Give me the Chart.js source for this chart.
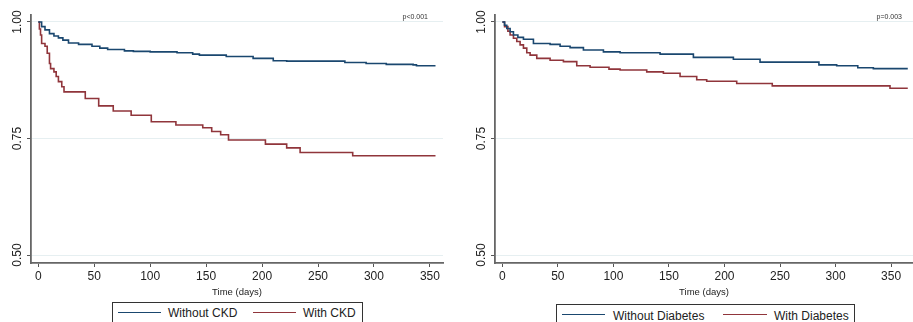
<!DOCTYPE html>
<html>
<head>
<meta charset="utf-8">
<script src="https://cdn.jsdelivr.net/npm/chart.js@4.4.1/dist/chart.umd.min.js"></script>
<style>
  body { margin: 0; width: 913px; height: 322px; overflow: hidden; background: #fff; position: relative;
         font-family: "Liberation Sans", Arial, sans-serif; color: #222; }
  .panel { position: absolute; top: 0; }
  .legend { position: absolute; border: 1px solid #333; height: 30px; box-sizing: border-box; }
  .legend span { position: absolute; white-space: nowrap; font-size: 12px; line-height: 12px; }
  .legend i { position: absolute; height: 0; border-top: 1.5px solid; }
</style>
</head>
<body>
<div class="panel" style="left:0"><canvas id="ckd" width="446" height="300"></canvas></div>
<div class="panel" style="left:464px"><canvas id="dm" width="449" height="300"></canvas></div>

<div class="legend" style="left:112px; top:302px; width:251px">
  <i style="left:5px; width:43px; top:9px; border-color:#1a476f"></i><span style="left:55px; top:4px">Without CKD</span>
  <i style="left:140px; width:43px; top:9px; border-color:#90353b"></i><span style="left:190px; top:4px">With CKD</span>
</div>
<div class="legend" style="left:556px; top:304px; width:299px">
  <i style="left:5px; width:43px; top:9px; border-color:#1a476f"></i><span style="left:56px; top:5px">Without Diabetes</span>
  <i style="left:166px; width:44px; top:9px; border-color:#90353b"></i><span style="left:217px; top:5px">With Diabetes</span>
</div>

<script>
// survival estimates (time in days, survival proportion)
const noCkdTime = [0, 3, 6, 10, 14, 18, 22, 27, 36, 48, 55, 62, 77, 85, 100, 124, 138, 144, 168, 192, 210, 222, 270, 274, 293, 311, 335, 338, 355];
const noCkdSurv = [1, 0.99, 0.983, 0.975, 0.97, 0.966, 0.961, 0.955, 0.952, 0.948, 0.944, 0.941, 0.938, 0.937, 0.936, 0.934, 0.931, 0.929, 0.926, 0.922, 0.917, 0.916, 0.916, 0.913, 0.911, 0.909, 0.908, 0.906, 0.906];

const ckdTime = [0, 1, 2, 3, 6, 8, 10, 11, 14, 16, 18, 21, 23, 42, 54, 67, 83, 101, 123, 147, 155, 163, 170, 203, 222, 234, 281, 355];
const ckdSurv = [1, 0.985, 0.972, 0.954, 0.948, 0.933, 0.911, 0.9, 0.893, 0.883, 0.872, 0.861, 0.85, 0.836, 0.82, 0.809, 0.8, 0.786, 0.779, 0.773, 0.765, 0.758, 0.747, 0.738, 0.73, 0.72, 0.713, 0.713];

const noDmTime = [0, 2, 4, 7, 10, 14, 19, 28, 43, 52, 61, 73, 91, 106, 142, 172, 208, 232, 276, 285, 301, 320, 334, 365];
const noDmSurv = [1, 0.993, 0.986, 0.979, 0.972, 0.967, 0.963, 0.954, 0.952, 0.948, 0.945, 0.94, 0.936, 0.934, 0.931, 0.924, 0.92, 0.914, 0.914, 0.908, 0.906, 0.902, 0.9, 0.9];

const dmTime = [0, 2, 5, 7, 10, 13, 16, 19, 22, 25, 31, 43, 55, 67, 79, 96, 106, 130, 145, 160, 175, 184, 211, 243, 349, 365];
const dmSurv = [1, 0.99, 0.98, 0.972, 0.965, 0.958, 0.951, 0.944, 0.934, 0.929, 0.922, 0.918, 0.915, 0.906, 0.903, 0.899, 0.897, 0.893, 0.89, 0.883, 0.876, 0.873, 0.868, 0.863, 0.858, 0.858];

const xTicks = [0, 50, 100, 150, 200, 250, 300, 350];
const yTicks = [0.5, 0.75, 1.0];

const blue = "#1a476f";
const red = "#90353b";

function toPoints(t, s) {
  return t.map((x, i) => ({ x: x, y: s[i] }));
}

// p-value in the top right corner of each panel
const pValue = {
  id: "pValue",
  afterDraw(chart, args, opts) {
    const ctx = chart.ctx;
    ctx.save();
    ctx.font = '7px "Liberation Sans", Arial, sans-serif';
    ctx.fillStyle = "#333";
    ctx.textAlign = "right";
    ctx.textBaseline = "middle";
    ctx.fillText(opts.text, chart.chartArea.right - opts.right, 17.5);
    ctx.restore();
  },
};

function kmChart(id, sets, xMin, xMax, padRight, pText, pRight) {
  new Chart(document.getElementById(id), {
    type: "line",
    data: {
      datasets: sets.map((d) => ({
        label: d.label,
        data: toPoints(d.t, d.s),
        borderColor: d.color,
        borderWidth: 1.6,
        pointRadius: 0,
        stepped: true,
        fill: false,
      })),
    },
    options: {
      responsive: false,
      animation: false,
      layout: { padding: { top: 15, right: padRight, left: 0, bottom: 0 } },
      plugins: {
        legend: { display: false },
        tooltip: { enabled: false },
        pValue: { text: pText, right: pRight },
      },
      scales: {
        x: {
          type: "linear",
          min: xMin,
          max: xMax,
          afterBuildTicks: (s) => { s.ticks = xTicks.map((v) => ({ value: v })); },
          afterFit: (s) => { s.height = 37; },
          grid: { drawOnChartArea: false, tickLength: 4, tickColor: "#555" },
          border: { color: "#666", width: 1.8 },
          ticks: { color: "#222", padding: 2, maxRotation: 0, font: { family: "Liberation Sans", size: 12 } },
          title: { display: true, text: "Time (days)", color: "#222", padding: { top: 0, bottom: 2 },
                   font: { family: "Liberation Sans", size: 9.5 } },
        },
        y: {
          min: 0.483,
          max: 1.015,
          afterBuildTicks: (s) => { s.ticks = yTicks.map((v) => ({ value: v })); },
          afterFit: (s) => { s.width = 31; },
          grid: { color: "#e6eff1", tickLength: 4, tickColor: "#555" },
          border: { color: "#666", width: 1.8 },
          ticks: {
            color: "#222",
            padding: -2,
            minRotation: 90,
            maxRotation: 90,
            crossAlign: "center",
            font: { family: "Liberation Sans", size: 12 },
            callback: (v) => v.toFixed(2),
          },
        },
      },
    },
    plugins: [pValue],
  });
}

kmChart("ckd", [
  { label: "Without CKD", t: noCkdTime, s: noCkdSurv, color: blue },
  { label: "With CKD", t: ckdTime, s: ckdSurv, color: red },
], -6.5, 361.7, 3, "p<0.001", 15);

kmChart("dm", [
  { label: "Without Diabetes", t: noDmTime, s: noDmSurv, color: blue },
  { label: "With Diabetes", t: dmTime, s: dmSurv, color: red },
], -6.6, 369.7, 0, "p=0.003", 11);
</script>
</body>
</html>
